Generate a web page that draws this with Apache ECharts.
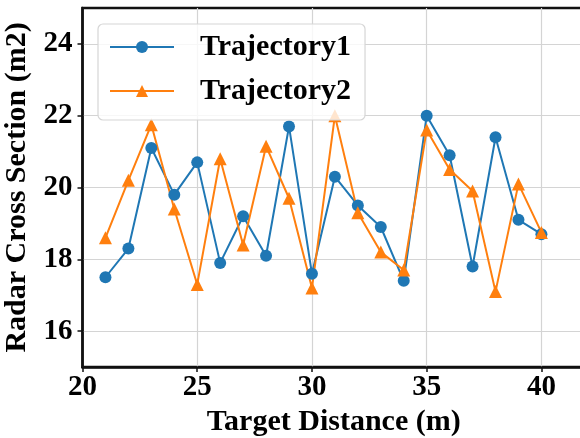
<!DOCTYPE html>
<html>
<head>
<meta charset="utf-8">
<script src="https://cdn.jsdelivr.net/npm/echarts@6/dist/echarts.min.js"></script>
<style>html,body{margin:0;padding:0;background:#fff;}#chart{width:580px;height:438px;}</style>
</head>
<body>
<div id="chart"></div>
<script>
const distances = [21,22,23,24,25,26,27,28,29,30,31,32,33,34,35,36,37,38,39,40];
const trajectory1 = [17.5,18.3,21.1,19.8,20.7,17.9,19.2,18.1,21.7,17.6,20.3,19.5,18.9,17.4,22.0,20.9,17.8,21.4,19.1,18.7];
const trajectory2 = [18.6,20.2,21.75,19.4,17.3,20.8,18.4,21.15,19.7,17.2,22.0,19.3,18.2,17.7,21.6,20.5,19.9,17.1,20.1,18.75];
const xTicks = [20,25,30,35,40];
const yTicks = [16,18,20,22,24];
const seriesNames = ['Trajectory1','Trajectory2'];

const FONT = 'Liberation Serif';
const chart = echarts.init(document.getElementById('chart'), null, {renderer:'canvas'});
const pairs = (xs, ys) => xs.map((x,i)=>[x, ys[i]]);
chart.setOption({
  animation:false,
  backgroundColor:'#fff',
  grid:{left:82.5, top:8, right:-5, bottom:71, show:true, borderColor:'#111', borderWidth:2.5, backgroundColor:'transparent', containLabel:false, outerBoundsMode:'none'},
  legend:{
    orient:'vertical', left:98, top:24,
    itemWidth:64, itemHeight:15, itemGap:14,
    padding:[8,14,14,11],
    backgroundColor:'rgba(255,255,255,0.8)',
    borderColor:'#d6d6d6', borderWidth:1.2, borderRadius:5,
    textStyle:{fontFamily:FONT, fontWeight:'bold', fontSize:30, color:'#000', padding:[0,0,0,21]},
    data:seriesNames
  },
  xAxis:{
    type:'value', min:20, max:41.9,
    name:'Target Distance (m)', nameLocation:'middle', nameGap:35,
    nameTextStyle:{fontFamily:FONT, fontWeight:'bold', fontSize:30, color:'#000'},
    axisLine:{show:true, lineStyle:{color:'#111', width:2.5}},
    axisTick:{show:true, length:5, lineStyle:{color:'#111', width:1.5}, customValues:xTicks},
    axisLabel:{fontFamily:FONT, fontWeight:'bold', fontSize:29, color:'#000', margin:6, customValues:xTicks},
    splitLine:{show:true, lineStyle:{color:'#d4d4d4', width:1.2}}
  },
  yAxis:{
    type:'value', min:15, max:25,
    name:'Radar Cross Section (m2)', nameLocation:'middle', nameGap:41, nameRotate:90,
    nameTextStyle:{fontFamily:FONT, fontWeight:'bold', fontSize:30, color:'#000'},
    axisLine:{show:true, lineStyle:{color:'#111', width:2.5}},
    axisTick:{show:true, length:5, lineStyle:{color:'#111', width:1.5}, customValues:yTicks},
    axisLabel:{fontFamily:FONT, fontWeight:'bold', fontSize:29, color:'#000', margin:10, customValues:yTicks},
    splitLine:{show:true, lineStyle:{color:'#d4d4d4', width:1.2}}
  },
  series:[
    {name:seriesNames[0], type:'line', data:pairs(distances, trajectory1),
     symbol:'circle', symbolSize:12, color:'#1f77b4',
     lineStyle:{width:2, color:'#1f77b4'}, itemStyle:{color:'#1f77b4'}},
    {name:seriesNames[1], type:'line', data:pairs(distances, trajectory2),
     symbol:'triangle', symbolSize:13, color:'#ff7f0e',
     lineStyle:{width:2, color:'#ff7f0e'}, itemStyle:{color:'#ff7f0e'}}
  ]
});
</script>
</body>
</html>
